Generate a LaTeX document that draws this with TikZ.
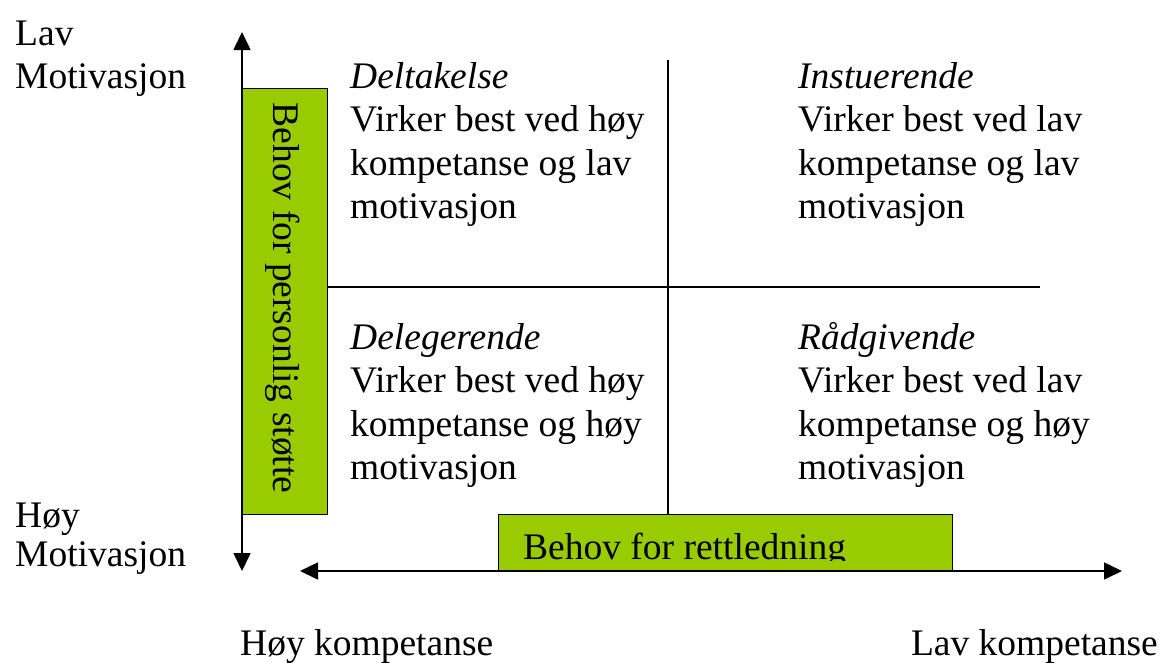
\documentclass[tikz,border=0pt]{standalone}
\usepackage{fontspec}
\setmainfont{Liberation Serif}
\usetikzlibrary{arrows.meta}
\definecolor{boxgreen}{HTML}{99CC00}
\newcommand{\quadtext}[4]{\begin{tabular}[t]{@{}l@{}}\textit{#1}\\#2\\#3\\#4\end{tabular}}
\tikzset{
  lbl/.style={inner sep=0pt, anchor=base west, font=\fontsize{37.5}{43.5}\selectfont},
  gbox/.style={draw=black, fill=boxgreen, line width=1.3pt, inner sep=0pt, anchor=north west},
  axisline/.style={line width=1.6pt, {Triangle[width=17pt,length=18pt]}-{Triangle[width=17pt,length=18pt]}},
  gridline/.style={line width=1.3pt}
}
\begin{document}
\begin{tikzpicture}[x=1pt,y=-1pt]
\useasboundingbox (0,0) rectangle (1163,662);
\fill[white] (0,0) rectangle (1163,662);
% coordinates
\coordinate (vtop) at (242,32);
\coordinate (vbot) at (242,571);
\coordinate (hl) at (300,571);
\coordinate (hr) at (1122,571);
\coordinate (gv1) at (668,60);
\coordinate (gv2) at (668,514);
\coordinate (gh1) at (327,287);
\coordinate (gh2) at (1040,287);
% green boxes
\node[gbox, minimum width=85pt, minimum height=426pt] (sbox) at (242,88) {};
\node[gbox, minimum width=454pt, minimum height=57pt] (rbox) at (498,514) {};
% grid
\draw[gridline] (gv1) -- (gv2);
\draw[gridline] (gh1) -- (gh2);
% axes
\draw[axisline] (vtop) -- (vbot);
\draw[axisline] (hl) -- (hr);
% box labels
\node[inner sep=0pt, rotate=-90, font=\fontsize{37.5}{43.5}\selectfont] (slabel) at (283,298) {Behov for personlig støtte};
\begin{scope}
\clip (498,514) rectangle (952,560);
\node[lbl] (rlabel) at (523,559) {Behov for rettledning};
\end{scope}
% axis labels
\node[lbl] (lav1) at (15,45) {Lav};
\node[lbl] (lav2) at (15,88) {Motivasjon};
\node[lbl] (hoy1) at (15,527) {Høy};
\node[lbl] (hoy2) at (15,566) {Motivasjon};
\node[lbl] (hk) at (240,655) {Høy kompetanse};
\node[lbl, anchor=base east] (lk) at (1158,655) {Lav kompetanse};
% quadrants
\node[lbl] (q1) at (350,88) {\quadtext{Deltakelse}{Virker best ved høy}{kompetanse og lav}{motivasjon}};
\node[lbl] (q2) at (798,88) {\quadtext{Instuerende}{Virker best ved lav}{kompetanse og lav}{motivasjon}};
\node[lbl] (q3) at (350,349) {\quadtext{Delegerende}{Virker best ved høy}{kompetanse og høy}{motivasjon}};
\node[lbl] (q4) at (798,349) {\quadtext{Rådgivende}{Virker best ved lav}{kompetanse og høy}{motivasjon}};
\end{tikzpicture}
\end{document}
